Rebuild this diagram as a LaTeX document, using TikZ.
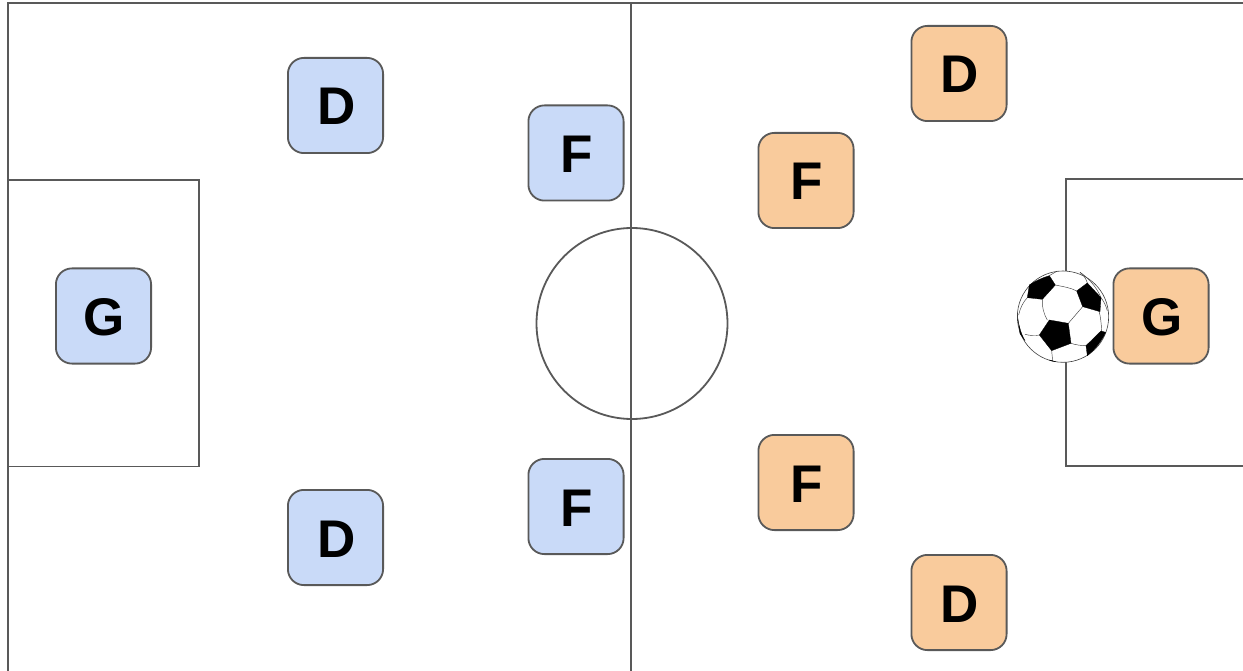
\documentclass[tikz,border=0pt]{standalone}
\usepackage{fontspec}
\setmainfont{Liberation Sans}
\definecolor{linegray}{HTML}{595959}
\definecolor{bluefill}{HTML}{C9DAF8}
\definecolor{orangefill}{HTML}{F9CB9C}
\tikzset{
  fieldline/.style={draw=linegray,line width=1.8pt},
  player/.style={draw=linegray,line width=1.8pt,rounded corners=16pt,minimum width=95.2pt,minimum height=95.2pt,inner sep=0pt,font=\fontsize{53}{53}\selectfont\bfseries,text=black,text height=39pt,text depth=0pt,execute at begin node={\kern2pt}},
  blueplayer/.style={player,fill=bluefill},
  orangeplayer/.style={player,fill=orangefill},
  patch/.style={fill=black,draw=black,line width=0.3pt,line join=round},
  seam/.style={draw=black!75,line width=0.45pt}
}
\begin{document}
\begin{tikzpicture}[x=1pt,y=-1pt]
\useasboundingbox (0,0) rectangle (1243,671);
\fill[white] (0,0) rectangle (1243,671);
\begin{scope}
\clip (0,0) rectangle (1243,671);
\draw[fieldline] (1250,3.1) -- (8,3.1) -- (8,680);
\draw[fieldline] (631,3.1) -- (631,680);
\draw[fieldline] (8,180) -- (199,180) -- (199,466.5) -- (8,466.5);
\draw[fieldline] (1250,179.1) -- (1065.9,179.1) -- (1065.9,466) -- (1250,466);
\draw[fieldline] (632,323.5) circle[radius=95.5pt];
\end{scope}
\node[blueplayer] (bg) at (103.5,316) {G};
\node[blueplayer] (bd1) at (335.5,105.5) {D};
\node[blueplayer] (bd2) at (335.5,537.5) {D};
\node[blueplayer] (bf1) at (576,153) {F};
\node[blueplayer] (bf2) at (576,506.5) {F};
\node[orangeplayer] (od1) at (959,73.5) {D};
\node[orangeplayer] (od2) at (959,602.5) {D};
\node[orangeplayer] (of1) at (806,180.5) {F};
\node[orangeplayer] (of2) at (806,482.5) {F};
\node[orangeplayer] (og) at (1161,316) {G};
% ball, coordinates worked out from the crop: (1000+zx/3, 255+zy/3)
\begin{scope}[shift={(1000,255)},x=0.3333pt,y=-0.3333pt]
\fill[white] (189,185) circle[radius=137*0.3333pt];
\draw[seam,line width=0.6pt] (189,185) circle[radius=137*0.3333pt];
\draw[seam] (166,90) .. controls (190,95) and (212,98) .. (230,108);
\draw[seam] (127,133) .. controls (125,155) and (132,178) .. (142,195);
\draw[seam] (248,155) -- (205,205);
\draw[seam] (297,168) .. controls (302,185) and (304,208) .. (305,228);
\draw[seam] (213,265) .. controls (228,270) and (244,272) .. (258,272);
\draw[seam] (155,287) -- (158,318);
\draw[seam] (82,128) .. controls (70,140) and (60,160) .. (56,180);
\draw[seam] (75,238) .. controls (90,242) and (105,243) .. (118,240);
\draw[seam] (148,62) -- (172,48);
\draw[seam] (262,84) .. controls (258,70) and (250,60) .. (240,52);
\draw[seam] (303,128) .. controls (312,140) and (318,152) .. (322,168);
\draw[seam] (240,52) .. controls (262,66) and (290,95) .. (303,128);
\draw[patch] (88,90) .. controls (105,78) and (128,68) .. (148,62) -- (166,90) -- (127,133) -- (82,128) -- cycle;
\draw[patch] (262,84) -- (303,128) -- (300,170) -- (248,155) -- (230,108) -- cycle;
\draw[patch] (148,195) -- (205,205) -- (213,265) -- (155,287) -- (118,240) -- cycle;
\draw[patch] (303,228) -- (317,232) .. controls (305,258) and (285,284) .. (262,302) -- (258,272) -- cycle;
\draw[patch] (52,180) .. controls (56,210) and (62,235) .. (75,257) -- (60,236) -- cycle;
\draw[patch] (148,315) -- (168,320) -- (155,318) -- cycle;
\end{scope}
\end{tikzpicture}
\end{document}
